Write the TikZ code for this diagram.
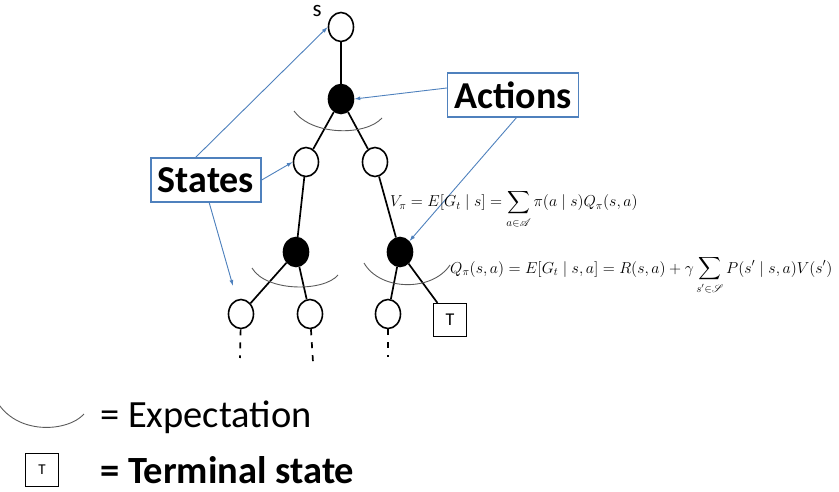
\documentclass[tikz,border=0pt]{standalone}
\usepackage{amsmath}
\usepackage{exscale}
\usepackage{fontspec}
\usepackage{mathrsfs}
\usepackage{tikz}
\usetikzlibrary{arrows.meta,shapes.geometric}
\newfontfamily\calibri{Carlito}
\definecolor{callout}{RGB}{79,129,189}
\definecolor{arcgray}{RGB}{90,90,90}

\begin{document}
\begin{tikzpicture}[x=1pt,y=-1pt,
  state/.style={ellipse,draw,line width=1.6pt,minimum width=25pt,minimum height=29pt,inner sep=0pt},
  act/.style={state,fill=black},
  term/.style={draw,line width=1.3pt,minimum size=33pt,inner sep=0pt,font=\calibri\fontsize{18}{18}\selectfont},
  edge/.style={line width=1.7pt},
  callbox/.style={draw=callout,line width=1.2pt,minimum height=44pt,inner xsep=7pt,inner ysep=0pt,font=\calibri\bfseries\fontsize{38}{40}\selectfont},
  callarrow/.style={callout,line width=0.9pt,-{Latex[length=6pt,width=4pt]}},
  expect/.style={arcgray,line width=0.9pt},
  formula/.style={anchor=base west,inner sep=0pt,scale=1.1,transform shape,font=\fontsize{14.4}{17}\selectfont},
  legend/.style={anchor=west,inner sep=0pt,font=\calibri\fontsize{38.5}{40}\selectfont}]
\useasboundingbox (0,0) rectangle (839,492);

% tree
\node[state] (s0) at (341,27) {};
\node[anchor=center,font=\calibri\fontsize{23}{23}\selectfont] (slab) at (317,11) {s};
\node[act] (a0) at (341,99) {};
\node[state] (s1) at (306,162) {};
\node[state] (s2) at (375,162) {};
\node[act] (a1) at (296,252) {};
\node[act] (a2) at (400,252) {};
\node[state] (l1) at (241,314) {};
\node[state] (l2) at (310,314) {};
\node[state] (l3) at (388,314) {};
\node[term] (t1) at (450,320) {T};
\coordinate (d1) at (240,358);
\coordinate (d2) at (313,362);
\coordinate (d3) at (388,357);

\draw[edge] (s0)--(a0);
\draw[edge] (a0)--(s1);
\draw[edge] (a0)--(s2);
\draw[edge] (s1)--(a1);
\draw[edge] (s2)--(a2);
\draw[edge] (a1)--(l1);
\draw[edge] (a1)--(l2);
\draw[edge] (a2)--(l3);
\draw[edge] (a2)--(t1);
\draw[edge,dash pattern=on 6pt off 7pt] (l1)--(d1);
\draw[edge,dash pattern=on 6pt off 7pt] (l2)--(d2);
\draw[edge,dash pattern=on 6pt off 7pt] (l3)--(d3);

% expectations
\draw[expect] (294,111) .. controls (312,136) and (366,136) .. (382,118);
\draw[expect] (252,268) .. controls (266,292) and (324,292) .. (338,275);
\draw[expect] (364,263) .. controls (380,291) and (432,292) .. (450,265);

% callouts
\node[callbox] (actions) at (513,95) {Actions};
\node[callbox] (states) at (206,180) {States};
\draw[callarrow] (actions.west|-0,88)--(a0.east);
\draw[callarrow] (517,117)--(a2.north east);
\draw[callarrow] (195,158)--(s0.west);
\draw[callarrow] (states.east)--(s1.west);
\draw[callarrow] (209,202)--(233,286);

% equations
\node[formula] (veq) at (390,207) {$\displaystyle V_\pi = E[G_t \mid s] = \sum_{a\in\mathscr{A}}\pi(a\mid s)Q_\pi(s,a)$};
\node[formula] (qeq) at (450,273) {$\displaystyle Q_\pi(s,a) = E[G_t \mid s,a] = R(s,a) + \gamma\sum_{s'\in\mathscr{S}}P(s'\mid s,a)V(s')$};

% legend
\draw[expect] (-4,400) .. controls (16,436) and (68,432) .. (84,414);
\node[legend] (lexp) at (100,417) {= Expectation};
\node[term,font=\calibri\fontsize{15}{15}\selectfont] (lt) at (42,470) {T};
\node[legend,font=\calibri\bfseries\fontsize{38.5}{40}\selectfont] (lterm) at (100,470) {= Terminal state};
\end{tikzpicture}
\end{document}
